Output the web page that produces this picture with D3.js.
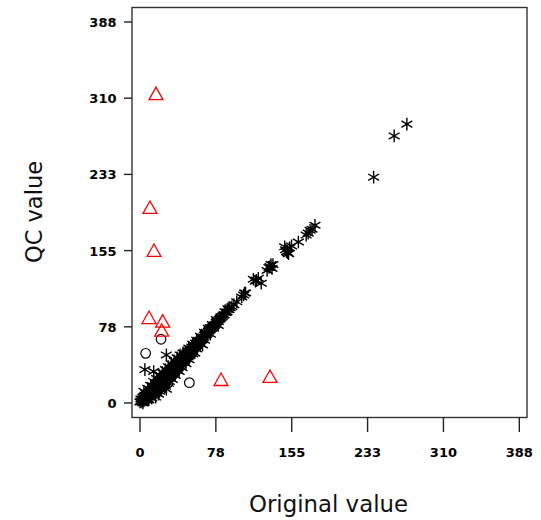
<!DOCTYPE html>
<html>
<head>
  <meta charset="utf-8">
  <script src="https://cdn.jsdelivr.net/npm/d3@7"></script>
  <style>
    body { margin: 0; background: #fff; }
  </style>
</head>
<body>
<script>
  var width = 541;
  var height = 520;

  // tick positions and their printed labels
  var tickValues = [0, 77.6, 155.2, 232.8, 310.4, 388];
  var tickLabels = ["0", "78", "155", "233", "310", "388"];

  // agreeing values (asterisks): [original, qc]
  var agree = [
    [1,2],[2,1],[2,4],[3,3],[3,6],[4,2],[4,5],[5,4],[5,8],[6,3],[6,6],[7,5],[7,9],[8,4],[8,7],
    [9,6],[9,11],[10,8],[10,12],[11,7],[11,10],[12,9],[12,14],[13,11],[13,16],[14,10],[14,13],
    [15,12],[15,17],[16,14],[16,19],[17,13],[17,16],[18,15],[18,21],[19,17],[19,23],[20,16],
    [20,19],[21,18],[21,24],[22,20],[22,26],[23,19],[23,22],[24,21],[24,27],[25,23],[25,29],
    [26,22],[26,25],[27,24],[27,30],[28,26],[28,32],[29,25],[29,28],[30,27],[30,33],[31,29],
    [31,35],[32,28],[32,31],[33,30],[33,36],[34,32],[34,38],[35,31],[35,34],[36,33],[36,39],
    [37,35],[37,40],[38,34],[38,37],[39,36],[39,42],[40,38],[40,43],[41,37],[41,40],[42,39],
    [42,45],[43,41],[43,46],[44,42],[44,47],[45,43],[45,48],[46,44],[46,49],[47,46],[47,50],
    [48,47],[48,51],[49,48],[49,53],[50,49],[50,52],[51,50],[51,54],[52,51],[52,55],[53,53],
    [53,57],[54,54],[55,56],[55,58],[56,57],[57,58],[57,61],[58,59],[59,61],[60,62],[60,64],
    [61,63],[62,64],[63,65],[63,67],[64,66],[65,67],[66,69],[67,70],[68,70],[68,72],[69,71],
    [70,73],[71,74],[72,75],[72,77],[73,76],[74,77],[75,78],[76,79],[77,80],[78,82],[79,83],
    [80,83],[81,85],[82,86],[83,87],[84,88],[85,89],[86,90],[88,92],[89,93],[91,95],[92,97],
    [94,98],[0,1],[1,4],[3,0],[6,10],[9,3],[12,5],[15,9],[5,34],[14,32],[27,49],[27,14],
    [25,18],[30,22],[20,12],
    [4,12],[8,15],[11,18],[14,22],[17,25],[20,28],[23,31],[26,34],[29,37],[32,40],[35,43],
    [38,46],[41,49],[44,51],[16,6],[19,9],[22,13],[26,17],[29,20],[33,24],[36,28],[40,32],
    [43,36],[47,40],[50,44],[54,50],[58,55],[62,60],[66,64],[50,56],[54,60],[58,64],[62,68],
    [66,72],[70,76],[74,80],[78,85],[56,51],[64,59],[72,70],[80,79],[87,93],[90,96],
    [96,100],[99,103],
    [104,108],[106,110],[108,112],[107,112],[116,126],[118,124],[119,125],[121,127],
    [124,122],[130,135],[132,138],[133,139],[135,137],[136,141],[134,141],
    [148,159],[150,154],[149,156],[151,153],[152,152],[153,158],[155,160],[162,164],
    [170,171],[172,173],[174,176],[176,177],[179,181],
    [239,230],[260,272],[273,284]
  ];

  // suspicious values (red triangles)
  var flagged = [
    [16.4,313.6],[10.2,197.6],[14.3,153.8],[9.2,85.5],[23.2,81.8],[22.2,72.6],
    [82.9,22.4],[133,25.5]
  ];

  // other values (open circles)
  var other = [
    [5.8,50.6],[21.5,64.9],[50.5,20.7]
  ];

  var svg = d3.select("body")
    .append("svg")
    .attr("width", width)
    .attr("height", height);

  var x = d3.scaleLinear().domain([0, 388]).range([140, 519.3]);
  var y = d3.scaleLinear().domain([0, 388]).range([403, 22]);

  // box
  svg.append("rect")
    .attr("x", 132).attr("y", 7.5)
    .attr("width", 395).attr("height", 410)
    .style("fill", "none")
    .style("stroke", "#333")
    .style("stroke-width", 1.4);

  // y axis ticks
  svg.selectAll(".ytick")
    .data(tickValues)
    .enter()
    .append("line")
    .attr("x1", 124).attr("x2", 132)
    .attr("y1", function(d) { return y(d); })
    .attr("y2", function(d) { return y(d); })
    .style("stroke", "#222").style("stroke-width", 1.4);

  svg.selectAll(".ylab")
    .data(tickValues)
    .enter()
    .append("text")
    .attr("x", 116.5)
    .attr("y", function(d) { return y(d) + 5; })
    .attr("text-anchor", "end")
    .style("font-family", "DejaVu Sans")
    .style("font-weight", "bold")
    .style("font-size", "13px")
    .text(function(d, i) { return tickLabels[i]; });

  // x axis ticks
  svg.selectAll(".xtick")
    .data(tickValues)
    .enter()
    .append("line")
    .attr("y1", 417.5).attr("y2", 432)
    .attr("x1", function(d) { return x(d); })
    .attr("x2", function(d) { return x(d); })
    .style("stroke", "#222").style("stroke-width", 1.4);

  svg.selectAll(".xlab")
    .data(tickValues)
    .enter()
    .append("text")
    .attr("x", function(d) { return x(d); })
    .attr("y", 456.5)
    .attr("text-anchor", "middle")
    .style("font-family", "DejaVu Sans")
    .style("font-weight", "bold")
    .style("font-size", "13px")
    .text(function(d, i) { return tickLabels[i]; });

  // axis titles
  svg.append("text")
    .attr("x", 328.5).attr("y", 511.5)
    .attr("text-anchor", "middle")
    .attr("textLength", 159)
    .attr("lengthAdjust", "spacingAndGlyphs")
    .style("font-family", "DejaVu Sans")
    .style("font-size", "23px")
    .style("fill", "#111")
    .text("Original value");

  svg.append("text")
    .attr("transform", "translate(42,212) rotate(-90)")
    .attr("text-anchor", "middle")
    .attr("textLength", 102)
    .attr("lengthAdjust", "spacingAndGlyphs")
    .style("font-family", "DejaVu Sans")
    .style("font-size", "23px")
    .style("fill", "#111")
    .text("QC value");

  // asterisk: vertical bar plus two slanted bars
  var r = 6.3;
  var dx = r * Math.cos(Math.PI / 6), dy = r * Math.sin(Math.PI / 6);
  var star = "M0," + (-r) + "V" + r +
    "M" + (-dx) + "," + (-dy) + "L" + dx + "," + dy +
    "M" + (-dx) + "," + dy + "L" + dx + "," + (-dy);

  svg.selectAll(".agree")
    .data(agree)
    .enter()
    .append("path")
    .attr("transform", function(d) { return "translate(" + x(d[0]) + "," + y(d[1]) + ")"; })
    .attr("d", star)
    .style("fill", "none")
    .style("stroke", "#000")
    .style("stroke-width", 1.4);

  svg.selectAll(".other")
    .data(other)
    .enter()
    .append("circle")
    .attr("cx", function(d) { return x(d[0]); })
    .attr("cy", function(d) { return y(d[1]); })
    .attr("r", 4.8)
    .style("fill", "none")
    .style("stroke", "#000")
    .style("stroke-width", 1.2);

  var tri = "M0,-8L7,4.5L-7,4.5Z";
  svg.selectAll(".flagged")
    .data(flagged)
    .enter()
    .append("path")
    .attr("transform", function(d) { return "translate(" + x(d[0]) + "," + y(d[1]) + ")"; })
    .attr("d", tri)
    .style("fill", "none")
    .style("stroke", "#ff0000")
    .style("stroke-width", 1.3);
</script>
</body>
</html>
